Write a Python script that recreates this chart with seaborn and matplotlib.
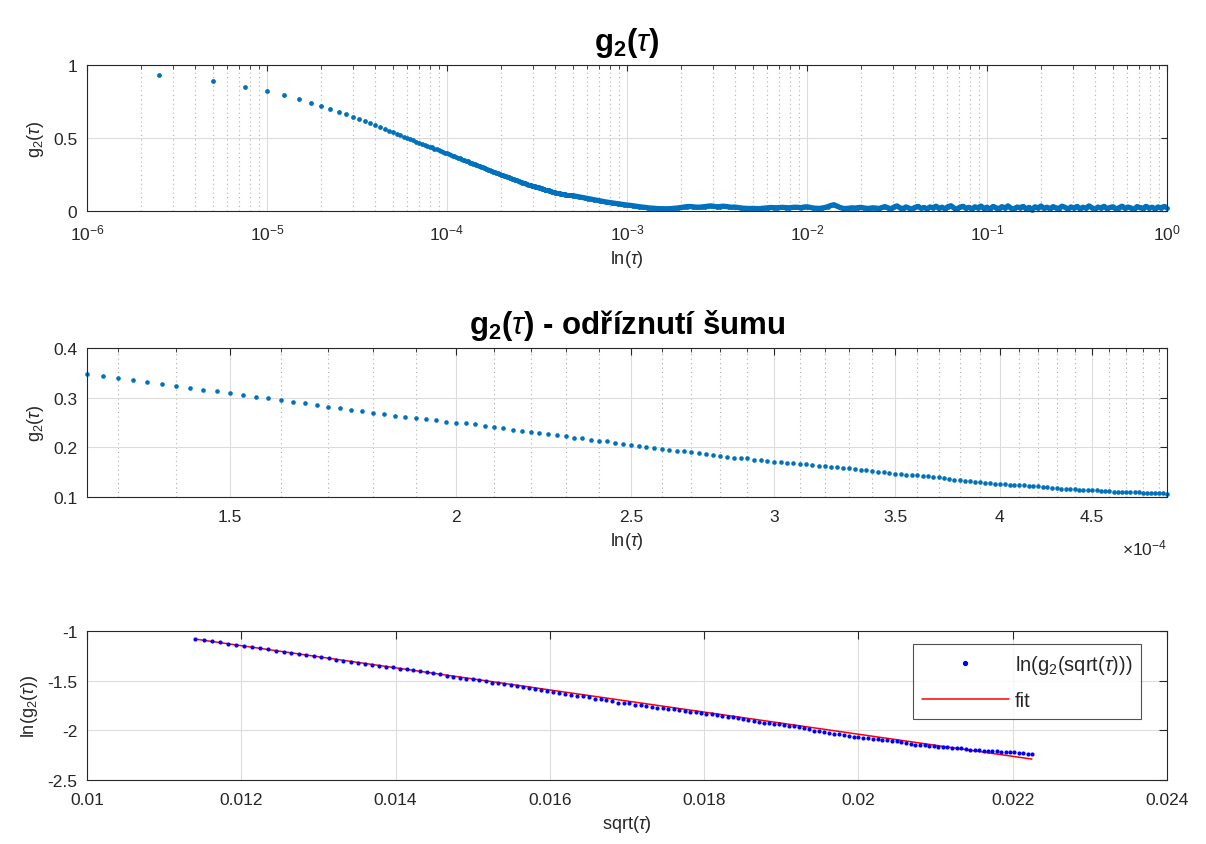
import numpy as np
import pandas as pd
import matplotlib
matplotlib.use("Agg")
import matplotlib.pyplot as plt
import seaborn as sns
from matplotlib.ticker import FixedLocator, FuncFormatter, LogLocator, NullFormatter, MultipleLocator
from matplotlib.lines import Line2D

# ---------------------------------------------------------------- data
lag_step = 2.5e-6  # correlator lag spacing [s]

# g2 for lags k = 1..49
g2_head = [
    0.929, 0.890, 0.852, 0.822, 0.792, 0.767, 0.742, 0.719, 0.701,
    0.681, 0.662, 0.647, 0.630, 0.614, 0.601, 0.587, 0.575, 0.562, 0.548,
    0.538, 0.528, 0.518, 0.509, 0.501, 0.492, 0.484, 0.476, 0.469, 0.462,
    0.454, 0.448, 0.441, 0.435, 0.428, 0.422, 0.416, 0.411, 0.405, 0.400,
    0.394, 0.389, 0.384, 0.379, 0.375, 0.370, 0.365, 0.361, 0.356, 0.352,
]

# g2 for lags k = 50..198 (noise cut-off window)
g2_cut = [
    0.348, 0.344, 0.340, 0.336, 0.331, 0.328, 0.324, 0.320, 0.316, 0.313,
    0.310, 0.306, 0.302, 0.299, 0.295, 0.292, 0.289, 0.285, 0.282, 0.279,
    0.276, 0.273, 0.270, 0.267, 0.264, 0.262, 0.259, 0.257, 0.255, 0.252,
    0.250, 0.248, 0.246, 0.243, 0.240, 0.238, 0.235, 0.232, 0.230, 0.228,
    0.226, 0.224, 0.222, 0.219, 0.218, 0.215, 0.213, 0.212, 0.209, 0.207,
    0.205, 0.203, 0.201, 0.199, 0.197, 0.195, 0.193, 0.192, 0.191, 0.189,
    0.186, 0.185, 0.183, 0.181, 0.179, 0.179, 0.178, 0.175, 0.174, 0.173,
    0.171, 0.170, 0.169, 0.168, 0.167, 0.166, 0.164, 0.163, 0.162, 0.161,
    0.160, 0.159, 0.158, 0.157, 0.155, 0.154, 0.153, 0.151, 0.150, 0.148,
    0.147, 0.146, 0.145, 0.1446, 0.144, 0.143, 0.142, 0.141, 0.140, 0.138,
    0.137, 0.135, 0.134, 0.133, 0.132, 0.131, 0.130, 0.129, 0.128, 0.127,
    0.126, 0.1256, 0.1250, 0.1243, 0.1238, 0.1232, 0.1227, 0.1221, 0.1216, 0.1205,
    0.1194, 0.1184, 0.1172, 0.1167, 0.1162, 0.1157, 0.1152, 0.1148, 0.1144, 0.1139,
    0.1135, 0.1132, 0.1128, 0.1122, 0.1115, 0.1110, 0.1107, 0.1104, 0.1101, 0.1097,
    0.1094, 0.1091, 0.1089, 0.1086, 0.1083, 0.1079, 0.1075, 0.1071, 0.1068,
]
cut_first_lag = 50

# g2 for the long-lag tail, 199 lags spread evenly in log from k = 200 to 400000
g2_tail = [
    0.105, 0.101, 0.097, 0.093, 0.089, 0.085, 0.081, 0.077, 0.073, 0.069,
    0.066, 0.062, 0.059, 0.056, 0.053, 0.050, 0.047, 0.044, 0.041, 0.039,
    0.036, 0.033, 0.030, 0.027, 0.025, 0.022, 0.020, 0.019, 0.017, 0.016,
    0.016, 0.015, 0.016, 0.017, 0.019, 0.021, 0.024, 0.027, 0.030, 0.031,
    0.029, 0.027, 0.026, 0.028, 0.030, 0.033, 0.035, 0.032, 0.029, 0.030,
    0.033, 0.031, 0.028, 0.026, 0.027, 0.024, 0.021, 0.019, 0.018, 0.017,
    0.018, 0.017, 0.016, 0.018, 0.020, 0.022, 0.024, 0.023, 0.022, 0.024,
    0.025, 0.023, 0.022, 0.024, 0.026, 0.025, 0.023, 0.027, 0.029, 0.025,
    0.021, 0.019, 0.018, 0.020, 0.024, 0.030, 0.038, 0.043, 0.034, 0.024,
    0.018, 0.017, 0.019, 0.022, 0.020, 0.023, 0.025, 0.021, 0.018, 0.019,
    0.022, 0.020, 0.017, 0.024, 0.030, 0.022, 0.015, 0.027, 0.035, 0.022,
    0.016, 0.028, 0.020, 0.013, 0.025, 0.031, 0.019, 0.024, 0.014, 0.028,
    0.022, 0.033, 0.018, 0.026, 0.015, 0.030, 0.036, 0.021, 0.012, 0.027,
    0.032, 0.018, 0.025, 0.014, 0.029, 0.021, 0.034, 0.017, 0.026, 0.012,
    0.031, 0.022, 0.016, 0.030, 0.020, 0.035, 0.019, 0.013, 0.027, 0.023,
    0.031, 0.016, 0.024, 0.010, 0.029, 0.021, 0.034, 0.018, 0.026, 0.014,
    0.030, 0.022, 0.017, 0.033, 0.025, 0.012, 0.028, 0.020, 0.031, 0.015,
    0.026, 0.019, 0.035, 0.022, 0.013, 0.027, 0.020, 0.032, 0.016, 0.024,
    0.029, 0.014, 0.022, 0.033, 0.018, 0.027, 0.021, 0.011, 0.030, 0.024,
    0.017, 0.032, 0.019, 0.026, 0.014, 0.028, 0.021, 0.031, 0.023,
]
tail_lag_range = (200, 400000)

# linear fit of ln(g2) against sqrt(tau): [slope, intercept]
fit_coef = [-111.4, 0.189]
fit_first = 2  # first sample of the cut window used for the fit

# ---------------------------------------------------------------- frames
tau_head = lag_step * np.arange(1, len(g2_head) + 1)
tau_cut = lag_step * np.arange(cut_first_lag, cut_first_lag + len(g2_cut))
tail_lags = np.round(np.logspace(np.log10(tail_lag_range[0]),
                                 np.log10(tail_lag_range[1]), len(g2_tail)))
tau_tail = lag_step * tail_lags

df_full = pd.DataFrame({
    "tau": np.concatenate([tau_head, tau_cut, tau_tail]),
    "g2": np.concatenate([g2_head, g2_cut, g2_tail]),
})
df_tail = pd.DataFrame({"tau": tau_tail, "g2": g2_tail})
df_cut = pd.DataFrame({"tau": tau_cut, "g2": g2_cut})
s_fit = np.sqrt(tau_cut[fit_first:])
df_log = pd.DataFrame({"s": s_fit, "lng2": np.log(np.array(g2_cut[fit_first:]))})
df_fit = pd.DataFrame({"s": s_fit, "lng2": np.polyval(fit_coef, s_fit)})

# ---------------------------------------------------------------- style
sns.set_theme(style="white")
plt.rcParams["font.family"] = ["Liberation Sans", "DejaVu Sans"]
plt.rcParams["mathtext.fontset"] = "custom"
plt.rcParams["mathtext.rm"] = "Liberation Sans"
plt.rcParams["mathtext.it"] = "Liberation Sans:italic"
plt.rcParams["mathtext.bf"] = "Liberation Sans:bold"

MBLUE = "#0072BD"
INK = "#262626"
TICK_FS = 12.5
LABEL_FS = 13
TITLE_FS = 22.5
LEGEND_FS = 14.5

fig = plt.figure(figsize=(12.06, 8.45), dpi=100)
W, H = 1206, 845


def add_axes(left, top, right, bottom):
    return fig.add_axes([left / W, 1 - bottom / H, (right - left) / W, (bottom - top) / H])


ax1 = add_axes(87, 66, 1167, 212)
ax2 = add_axes(87, 349, 1167, 498)
ax3 = add_axes(87, 632, 1167, 781)


def frame(ax, major_len=6, minor_len=3):
    for sp in ax.spines.values():
        sp.set_visible(True)
        sp.set_color(INK)
        sp.set_linewidth(0.8)
    ax.tick_params(which="major", direction="in", length=major_len, width=0.8,
                   top=True, right=True, colors=INK, labelsize=TICK_FS)
    ax.tick_params(axis="x", which="major", pad=9)
    ax.tick_params(axis="y", which="major", pad=7)
    ax.tick_params(which="minor", direction="in", length=minor_len, width=0.6,
                   top=True, right=True, colors=INK)
    ax.grid(True, which="major", color="#dcdcdc", linewidth=0.8, linestyle="-")
    ax.set_axisbelow(True)


# ---------------------------------------------------------------- g2(tau), full range
sns.lineplot(data=df_tail, x="tau", y="g2", ax=ax1, color=MBLUE, linewidth=3.8,
             estimator=None, sort=False)
sns.scatterplot(data=df_full, x="tau", y="g2", ax=ax1, color=MBLUE, s=12,
                linewidth=0, edgecolor=None, clip_on=False)
ax1.set_xscale("log")
ax1.set_xlim(1e-6, 1)
ax1.set_ylim(0, 1)
ax1.yaxis.set_major_locator(FixedLocator([0, 0.5, 1]))
ax1.yaxis.set_major_formatter(FuncFormatter(lambda v, p: f"{v:g}"))
ax1.xaxis.set_major_locator(FixedLocator([10.0 ** e for e in range(-6, 1)]))
ax1.xaxis.set_major_formatter(FuncFormatter(lambda v, p: r"10$^{%d}$" % round(np.log10(v))))
ax1.xaxis.set_minor_locator(LogLocator(base=10, subs=np.arange(2, 10), numticks=20))
ax1.xaxis.set_minor_formatter(NullFormatter())
frame(ax1, major_len=4.5, minor_len=2.8)
ax1.tick_params(axis="x", which="major", pad=8)
ax1.grid(True, which="minor", axis="x", color="#b0b0b0", linewidth=0.8, linestyle=(0, (1, 3)))
ax1.set_xlabel(r"ln($\tau$)", fontsize=LABEL_FS, color=INK, labelpad=4)
ax1.set_ylabel(r"g$_2$($\tau$)", fontsize=LABEL_FS, color=INK, labelpad=5)
ax1.set_title(r"g$_\mathbf{2}$($\tau$)", fontsize=TITLE_FS, fontweight="bold", pad=11, color="black")

# ---------------------------------------------------------------- noise cut-off window
sns.scatterplot(data=df_cut, x="tau", y="g2", ax=ax2, color=MBLUE, s=11,
                linewidth=0, edgecolor=None, clip_on=False)
ax2.set_xscale("log")
ax2.set_xlim(tau_cut[0], tau_cut[-1])
ax2.set_ylim(0.1, 0.4)
ax2.yaxis.set_major_locator(FixedLocator([0.1, 0.2, 0.3, 0.4]))
ax2.yaxis.set_major_formatter(FuncFormatter(lambda v, p: f"{v:.1f}"))
major_x = [1.5e-4, 2e-4, 2.5e-4, 3e-4, 3.5e-4, 4e-4, 4.5e-4]
minor_x = [m * 1e-5 for m in range(13, 50) if all(abs(m * 1e-5 - t) > 1e-7 for t in major_x)]
ax2.xaxis.set_major_locator(FixedLocator(major_x))
ax2.xaxis.set_major_formatter(FuncFormatter(lambda v, p: f"{v * 1e4:g}"))
ax2.xaxis.set_minor_locator(FixedLocator(minor_x))
ax2.xaxis.set_minor_formatter(NullFormatter())
frame(ax2, major_len=5, minor_len=2.8)
ax2.grid(True, which="minor", axis="x", color="#b0b0b0", linewidth=0.8, linestyle=(0, (1, 3)))
ax2.set_xlabel(r"ln($\tau$)", fontsize=LABEL_FS, color=INK, labelpad=4)
ax2.set_ylabel(r"g$_2$($\tau$)", fontsize=LABEL_FS, color=INK, labelpad=5)
ax2.text(1.0, -0.34, r"$\times10^{-4}$", transform=ax2.transAxes, ha="right",
         va="center", fontsize=TICK_FS, color=INK)
ax2.set_title(r"g$_\mathbf{2}$($\tau$) - odříznutí šumu", fontsize=TITLE_FS,
              fontweight="bold", pad=11, color="black")

# ---------------------------------------------------------------- ln(g2) vs sqrt(tau) with fit
sns.scatterplot(data=df_log, x="s", y="lng2", ax=ax3, color="blue", s=9,
                linewidth=0, edgecolor=None, zorder=3)
sns.lineplot(data=df_fit, x="s", y="lng2", ax=ax3, color="red", linewidth=1.1,
             estimator=None, sort=False, zorder=2)
ax3.set_xlim(0.01, 0.024)
ax3.set_ylim(-2.5, -1)
ax3.xaxis.set_major_locator(MultipleLocator(0.002))
ax3.xaxis.set_major_formatter(FuncFormatter(lambda v, p: f"{v:.3f}".rstrip("0")))
ax3.yaxis.set_major_locator(MultipleLocator(0.5))
ax3.yaxis.set_major_formatter(FuncFormatter(lambda v, p: f"{v:g}"))
frame(ax3, major_len=6, minor_len=3)
ax3.set_xlabel(r"sqrt($\tau$)", fontsize=LABEL_FS, color=INK, labelpad=4)
ax3.set_ylabel(r"ln(g$_2$($\tau$))", fontsize=LABEL_FS, color=INK, labelpad=5)

handles = [
    Line2D([], [], color="blue", marker="o", markersize=2.8, linestyle="none"),
    Line2D([], [], color="red", linewidth=1.1),
]
leg = ax3.legend(handles, [r"ln(g$_2$(sqrt($\tau$)))", "fit"], loc="upper right",
                 bbox_to_anchor=(0.976, 0.91), fontsize=LEGEND_FS, frameon=True,
                 fancybox=False, edgecolor=INK, handlelength=4.3, borderpad=0.45,
                 labelspacing=0.7, handletextpad=0.3, borderaxespad=0)
leg.get_frame().set_linewidth(0.8)

fig.savefig("out.png", dpi=100)
